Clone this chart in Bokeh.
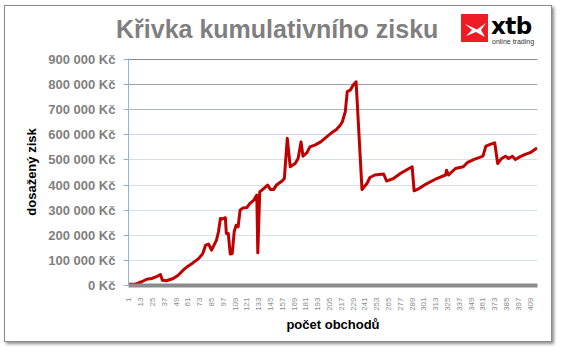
from bokeh.plotting import figure
from bokeh.models import Range1d, FixedTicker, CustomJSTickFormatter, Grid, Div
from bokeh.layouts import column
from bokeh.embed import file_html
from bokeh.resources import INLINE
from math import pi

# ---- data ----
trades = [1, 7, 10, 14, 19, 24, 29, 33, 35, 39, 46, 51, 56, 61, 66, 72, 76, 79, 82, 85,
          90, 92, 94, 96, 99, 100, 102, 104, 106, 108, 110, 112, 114, 117, 121, 124, 128,
          131, 132, 134, 138, 142, 145, 148, 151, 157, 159, 162, 165, 170, 173, 176, 178,
          182, 185, 190, 196, 202, 207, 212, 216, 218, 221, 223, 226, 229, 232, 238, 243,
          246, 251, 260, 263, 270, 277, 284, 289, 291, 296, 304, 314, 323, 324, 326, 333,
          341, 345, 352, 357, 361, 364, 369, 373, 376, 380, 384, 387, 391, 394, 399, 404,
          409, 416]
profit = [5000, 5000, 9000, 15000, 25000, 28000, 35000, 44000, 21000, 19000, 28000, 41000,
          61000, 77000, 90000, 108000, 127000, 161000, 165000, 141000, 181000, 214000, 267000,
          265000, 270000, 207000, 207000, 125000, 127000, 214000, 240000, 234000, 300000,
          309000, 311000, 327000, 340000, 360000, 130000, 373000, 386000, 400000, 382000,
          382000, 400000, 417000, 426000, 586000, 473000, 486000, 506000, 572000, 515000,
          529000, 552000, 559000, 572000, 592000, 608000, 621000, 639000, 652000, 692000,
          772000, 778000, 798000, 811000, 382000, 406000, 430000, 440000, 444000, 416000,
          426000, 446000, 462000, 473000, 377000, 386000, 406000, 426000, 440000, 459000,
          440000, 466000, 473000, 489000, 502000, 509000, 515000, 555000, 563000, 568000,
          486000, 506000, 515000, 506000, 515000, 502000, 513000, 522000, 529000, 548000]
x_ticks = list(range(1, 410, 12))
y_ticks = list(range(0, 900001, 100000))
n_trades = 416

title_text = "Křivka kumulativního zisku"
logo_text = "xtb"
logo_sub = "online trading"
x_label = "počet obchodů"
y_label = "dosažený zisk"

FONT = "Liberation Sans"

p = figure(width=546, height=290, output_backend="svg", toolbar_location=None,
           x_range=Range1d(0.5, n_trades + 0.5), y_range=Range1d(0, 904000),
           min_border_left=123, min_border_right=14, min_border_top=7, min_border_bottom=56)
p.outline_line_color = None
p.background_fill_color = "white"
p.border_fill_color = "white"
p.xgrid.visible = False
p.ygrid.visible = False

# grid lines, darker towards the top
grid_cols = {900000: "#8a8a8a", 800000: "#a0a0a0", 700000: "#b0b5bc", 600000: "#cdd6e2"}
for t in y_ticks[1:]:
    p.add_layout(Grid(dimension=1, ticker=FixedTicker(ticks=[t]),
                      grid_line_color=grid_cols.get(t, "#d6e0ed"), grid_line_width=1))

p.line(trades, profit, line_color="#c00000", line_width=3, line_join="round")

# y axis
ya = p.yaxis[0]
ya.ticker = FixedTicker(ticks=y_ticks)
ya.formatter = CustomJSTickFormatter(code="""
return tick.toFixed(0).replace(/\\B(?=(\\d{3})+(?!\\d))/g, " ") + " Kč";
""")
ya.axis_line_color = "#8db3e2"
ya.major_tick_line_color = "#8db3e2"
ya.major_tick_out = 5
ya.major_tick_in = 0
ya.minor_tick_line_color = None
ya.major_label_text_font = FONT
ya.major_label_text_font_style = "bold"
ya.major_label_text_font_size = "13px"
ya.major_label_text_color = "#7f7f7f"
ya.major_label_standoff = 8
ya.axis_label = y_label
ya.axis_label_text_font = FONT
ya.axis_label_text_font_style = "bold"
ya.axis_label_text_font_size = "13px"
ya.axis_label_text_color = "black"
ya.axis_label_standoff = 6

# x axis
xa = p.xaxis[0]
xa.ticker = FixedTicker(ticks=x_ticks)
xa.axis_line_color = "#8c8c8c"
xa.axis_line_width = 4
xa.major_tick_line_color = None
xa.minor_tick_line_color = None
xa.major_label_orientation = pi / 2
xa.major_label_text_font = FONT
xa.major_label_text_font_size = "8px"
xa.major_label_text_color = "#8c8c8c"
xa.major_label_standoff = 6
xa.axis_label = x_label
xa.axis_label_text_font = FONT
xa.axis_label_text_font_style = "bold"
xa.axis_label_text_font_size = "13px"
xa.axis_label_text_color = "black"
xa.axis_label_standoff = 3

logo_svg = ('<svg width="27" height="28" style="position:absolute;left:456px;top:8px">'
            '<rect x="0" y="0" width="27" height="28" fill="#ee1c25"/>'
            '<path d="M4 10 L16 15.5 L25 9 L20 16 L24 23 L15 18 L5 22 L11 16 Z" fill="white"/>'
            '</svg>')
header_html = (
    '<div style="position:relative;width:546px;height:45px;">'
    f'<span style="position:absolute;left:111px;top:11px;font-family:\'Liberation Sans\';'
    f'font-weight:bold;font-size:25px;line-height:25px;color:#7f7f7f;white-space:nowrap;">{title_text}</span>'
    + logo_svg +
    f'<span style="position:absolute;left:486px;top:9px;font-family:\'DejaVu Sans\';'
    f'font-weight:bold;font-size:23px;line-height:23px;color:#000;letter-spacing:-0.5px;">{logo_text}</span>'
    f'<span style="position:absolute;left:487px;top:32px;font-family:\'Liberation Sans\';'
    f'font-size:7px;line-height:7px;color:#333;white-space:nowrap;">{logo_sub}</span>'
    '</div>'
)
header = Div(text=header_html, width=546, height=45, margin=0)

root = column(header, p, spacing=0,
              styles={"margin-left": "4px", "margin-top": "5px",
                      "border": "1px solid #8c8c8c",
                      "box-shadow": "2px 2px 3px rgba(0,0,0,0.45)",
                      "background-color": "white"})

open("out.html", "w").write(file_html(root, INLINE))
